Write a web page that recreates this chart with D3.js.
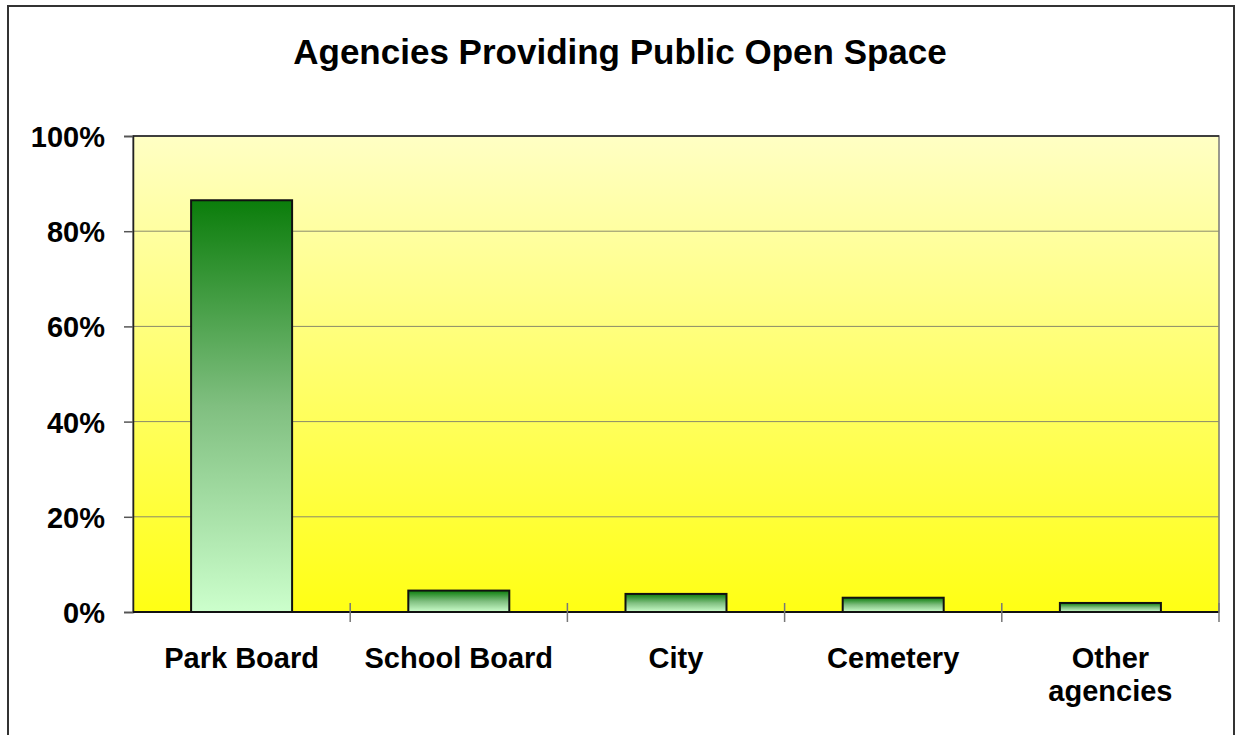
<!DOCTYPE html>
<html>
<head>
<meta charset="utf-8">
<script src="https://cdn.jsdelivr.net/npm/d3@7"></script>
<style>
  body { margin: 0; background: #fff; }
  text { font-family: "Liberation Sans", Arial, sans-serif; font-weight: bold; fill: #000; }
</style>
</head>
<body>
<div id="chart-area"></div>
<script>
// data
var categories = ["Park Board", "School Board", "City", "Cemetery", "Other agencies"];
var shares = [86.5, 4.5, 3.8, 3.0, 1.9];
var yTicks = [0, 20, 40, 60, 80, 100];
var chartTitle = "Agencies Providing Public Open Space";

var W = 1236, H = 735;
var margin = {top: 136, right: 17, bottom: 123, left: 133};
var pWidth = W - margin.left - margin.right;
var pHeight = H - margin.top - margin.bottom;

var svg = d3.select("#chart-area").append("svg")
  .attr("width", W)
  .attr("height", H);

var defs = svg.append("defs");

// plot background: pale yellow to yellow
var bg = defs.append("linearGradient")
  .attr("id", "bgGrad").attr("x1", 0).attr("y1", 0).attr("x2", 0).attr("y2", 1);
bg.append("stop").attr("offset", "0%").attr("stop-color", "#ffffc4");
bg.append("stop").attr("offset", "100%").attr("stop-color", "#ffff14");

// bar fill: dark green to mint
var bg2 = defs.append("linearGradient")
  .attr("id", "barGrad").attr("x1", 0).attr("y1", 0).attr("x2", 0).attr("y2", 1);
bg2.append("stop").attr("offset", "0%").attr("stop-color", "#0b7d0b");
bg2.append("stop").attr("offset", "50%").attr("stop-color", "#80bf80");
bg2.append("stop").attr("offset", "100%").attr("stop-color", "#ccffcc");

// outer chart border
svg.append("rect")
  .attr("x", 8).attr("y", 6)
  .attr("width", 1226).attr("height", 740)
  .attr("fill", "none")
  .attr("stroke", "#333")
  .attr("stroke-width", 2);

svg.append("text")
  .attr("x", 620)
  .attr("y", 64)
  .attr("text-anchor", "middle")
  .style("font-size", "35px")
  .text(chartTitle);

var pGroup = svg.append("g")
  .attr("transform", "translate(" + margin.left + "," + margin.top + ")");

var x = d3.scaleBand()
  .domain(categories)
  .range([0, pWidth])
  .paddingInner(0.535)
  .paddingOuter(0.2675);

var y = d3.scaleLinear()
  .domain([0, 100])
  .range([pHeight, 0]);

pGroup.append("rect")
  .attr("width", pWidth)
  .attr("height", pHeight)
  .attr("fill", "url(#bgGrad)")
  .attr("stroke", "#777")
  .attr("stroke-width", 1.5);

// gridlines
pGroup.selectAll(".grid")
  .data(yTicks.slice(1))
  .enter().append("line")
    .attr("class", "grid")
    .attr("x1", 0).attr("x2", pWidth)
    .attr("y1", function(d) { return y(d); })
    .attr("y2", function(d) { return y(d); })
    .attr("stroke", function(d) { return d == 100 ? "#222" : "#8a8a6a"; })
    .attr("stroke-width", function(d) { return d == 100 ? 1.5 : 1; });

// bars
pGroup.selectAll(".bar")
  .data(shares)
  .enter().append("rect")
    .attr("class", "bar")
    .attr("x", function(d, i) { return x(categories[i]); })
    .attr("width", x.bandwidth())
    .attr("y", function(d) { return y(d); })
    .attr("height", function(d) { return pHeight - y(d); })
    .attr("fill", "url(#barGrad)")
    .attr("stroke", "#111")
    .attr("stroke-width", 2);

// y axis
var yAxisGroup = pGroup.append("g")
  .call(d3.axisLeft(y)
    .tickValues(yTicks)
    .tickSize(9)
    .tickPadding(19)
    .tickFormat(function(d) { return d + "%"; }));
yAxisGroup.select(".domain").attr("stroke", "#222").attr("stroke-width", 1.5);
yAxisGroup.selectAll(".tick line").attr("stroke", "#555").attr("stroke-width", 1.5);
yAxisGroup.selectAll("text")
  .style("font-size", "29px")
  .attr("font-family", null)
  .attr("dy", "0.36em");

// x axis: line plus category boundary ticks
var xAxisGroup = pGroup.append("g")
  .attr("transform", "translate(0," + pHeight + ")");
xAxisGroup.append("line")
  .attr("x1", 0).attr("x2", pWidth)
  .attr("stroke", "#111").attr("stroke-width", 2);

var bounds = d3.range(categories.length + 1).map(function(i) { return i * x.step(); });
xAxisGroup.selectAll(".xtick")
  .data(bounds.slice(1))
  .enter().append("line")
    .attr("class", "xtick")
    .attr("x1", function(d) { return d; })
    .attr("x2", function(d) { return d; })
    .attr("y1", -9).attr("y2", 10)
    .attr("stroke", "#777").attr("stroke-width", 1.5);

xAxisGroup.selectAll(".xlabel")
  .data(categories)
  .enter().append("text")
    .attr("class", "xlabel")
    .attr("text-anchor", "middle")
    .style("font-size", "29px")
    .each(function(d) {
      var words = d == "Other agencies" ? ["Other", "agencies"] : [d];
      var t = d3.select(this);
      words.forEach(function(w, i) {
        t.append("tspan")
          .attr("x", x(d) + x.bandwidth() / 2)
          .attr("y", 56 + i * 33)
          .text(w);
      });
    });
</script>
</body>
</html>
